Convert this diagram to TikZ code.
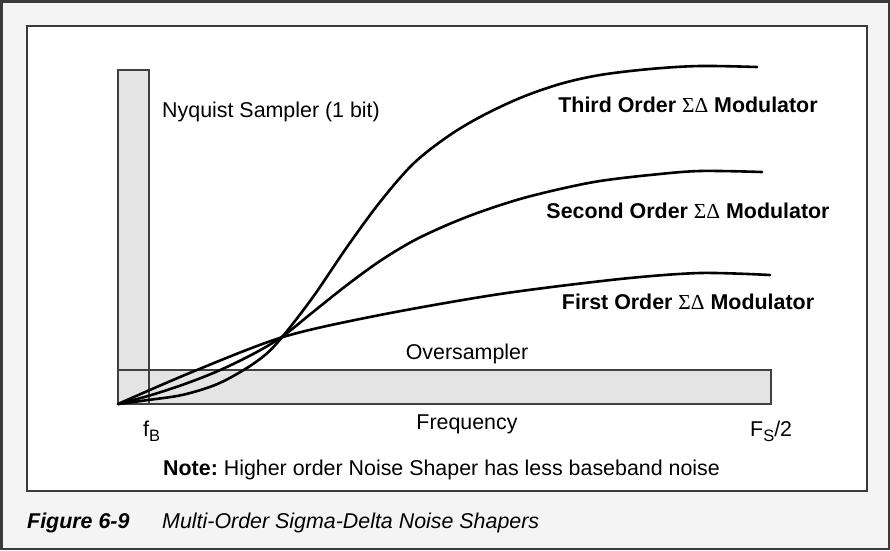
\documentclass[tikz,border=0pt]{standalone}
\usepackage{fontspec}
\setmainfont{Liberation Sans}
\newfontfamily\symfont{Liberation Serif}
\definecolor{bandgray}{HTML}{F4F4F4}
\definecolor{framegray}{HTML}{3A3A3A}
\definecolor{barfill}{HTML}{E4E4E4}
\definecolor{bardraw}{HTML}{404040}
\newcommand{\lowsub}[1]{\raisebox{-0.25em}{\fontsize{16.5}{18}\selectfont #1}}
\begin{document}
\begin{tikzpicture}[x=1pt,y=-1pt,
  lbl/.style={font=\fontsize{21.4}{24}\selectfont, inner sep=0pt, anchor=base west},
  blbl/.style={font=\fontsize{21.4}{24}\selectfont\bfseries, inner sep=0pt, anchor=base},
  barbox/.style={fill=barfill},
  barline/.style={draw=bardraw, line width=1.2pt},
  curve/.style={line width=2.6pt, black, line join=round, line cap=round}]
\useasboundingbox (0,0) rectangle (890,550);
% frames
\draw[fill=bandgray, draw=framegray, line width=2.5pt] (1.25,1.25) rectangle (888.75,548.75);
\draw[fill=white, draw=framegray, line width=1.6pt] (27,26) rectangle (867,491);
% bars
\coordinate (o) at (118,404);
\coordinate (ny) at (149,70);
\coordinate (ov) at (771,370);
\fill[barbox] (o) rectangle (ny);
\fill[barbox] (o) rectangle (ov);
\draw[barline] (o) rectangle (ny);
\draw[barline] (o) rectangle (ov);
% curves
\draw[curve] plot[smooth, tension=0.55] coordinates {(118,404) (148,400) (182,395) (215,385) (242,371) (265,355) (283,336) (313,297) (347,247) (380,202) (413,164) (447,137) (480,117) (520,98) (560,84) (600,75) (650,69) (700,66) (757,67)};
\draw[curve] plot[smooth, tension=0.55] coordinates {(118,404) (148,396) (182,385) (218,371) (255,353) (283,336) (313,312) (347,285) (380,261) (413,241) (447,225) (480,212) (520,199) (560,189) (600,181) (650,175) (700,171) (762,172)};
\draw[curve] plot[smooth, tension=0.5] coordinates {(118,404) (192,372) (283,337) (380,315) (500,294) (620,279) (700,273) (770,275)};
% labels
\node[lbl] (nyq) at (162,117) {Nyquist Sampler (1 bit)};
\node[blbl] (third) at (688,112) {Third Order {\symfont\mdseries ΣΔ} Modulator};
\node[blbl] (second) at (688,218) {Second Order {\symfont\mdseries ΣΔ} Modulator};
\node[blbl] (first) at (688,309) {First Order {\symfont\mdseries ΣΔ} Modulator};
\node[lbl, anchor=base] (over) at (467,359) {Oversampler};
\node[lbl, anchor=base] (freq) at (467,429) {Frequency};
\node[lbl] (fb) at (143,436) {f\lowsub{B}};
\node[lbl] (fs) at (750,436) {F\lowsub{S}/2};
\node[lbl] (note) at (163,475.5) {\textbf{Note:}\ Higher order Noise Shaper has less baseband noise};
\node[lbl] (fig) at (27,528) {\bfseries\itshape Figure 6-9};
\node[lbl] (cap) at (162,528) {\itshape Multi-Order Sigma-Delta Noise Shapers};
\end{tikzpicture}
\end{document}
